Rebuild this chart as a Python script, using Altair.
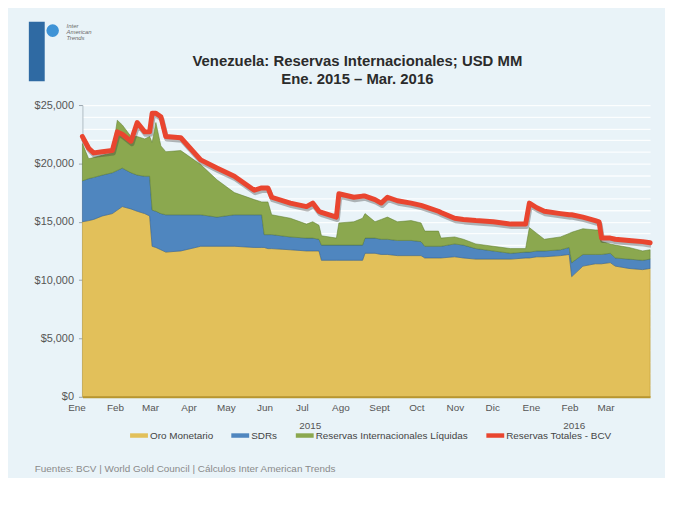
import altair as alt
import pandas as pd

# ---------------- data (USD MM) ----------------
dates = [
    "2015-01-01", "2015-01-06", "2015-01-10", "2015-01-17", "2015-01-25", "2015-01-29",
    "2015-02-02", "2015-02-09", "2015-02-14", "2015-02-20", "2015-02-24", "2015-02-26",
    "2015-03-01", "2015-03-05", "2015-03-09", "2015-03-21", "2015-04-06", "2015-04-19",
    "2015-05-03", "2015-05-19", "2015-05-25", "2015-05-27", "2015-05-30", "2015-06-02",
    "2015-06-17", "2015-06-30", "2015-07-05", "2015-07-10", "2015-07-12", "2015-07-24",
    "2015-07-26", "2015-08-07", "2015-08-14", "2015-08-16", "2015-08-24", "2015-08-29",
    "2015-09-03", "2015-09-11", "2015-09-22", "2015-09-30", "2015-10-03", "2015-10-14",
    "2015-10-16", "2015-10-27", "2015-11-03", "2015-11-13", "2015-11-27", "2015-12-11",
    "2015-12-23", "2015-12-26", "2016-01-01", "2016-01-07", "2016-01-20", "2016-01-27",
    "2016-01-29", "2016-02-07", "2016-02-17", "2016-02-20", "2016-02-22", "2016-02-29",
    "2016-03-04", "2016-03-15", "2016-03-26", "2016-04-01",
]
oro = [
    15000, 15100, 15200, 15500, 15700, 16000,
    16300, 16100, 15900, 15700, 15500, 12900,
    12800, 12600, 12400, 12500, 12900, 12900,
    12900, 12800, 12800, 12800, 12700, 12700,
    12600, 12500, 12500, 12500, 11700, 11700,
    11700, 11700, 11700, 12300, 12300, 12200,
    12200, 12100, 12100, 12100, 11900, 11900,
    11900, 12000, 11900, 11800, 11800, 11800,
    11900, 11900, 12000, 12000, 12100, 12200,
    10300, 11200, 11400, 11400, 11400, 11500,
    11200, 11000, 10900, 11000,
]
sdrs = [
    3500, 3600, 3600, 3500, 3500, 3400,
    3300, 3100, 3100, 3200, 3400, 3100,
    3100, 3100, 3200, 3100, 2700, 2500,
    2700, 2800, 2800, 1100, 1200, 1200,
    1100, 1100, 1100, 1000, 1300, 1300,
    1300, 1300, 1300, 1300, 1300, 1300,
    1300, 1300, 1300, 1200, 1000, 1000,
    1000, 1100, 1100, 900, 700, 500,
    500, 500, 500, 500, 500, 600,
    1200, 1000, 800, 800, 800, 800,
    700, 800, 800, 800,
]
liquidas = [
    3200, 1700, 1700, 1700, 1700, 4300,
    3700, 3100, 3300, 3200, 3400, 5800,
    7600, 5800, 5400, 5500, 4300, 3200,
    1900, 1300, 1100, 2800, 2800, 1700,
    1600, 1200, 1400, 1200, 800, 600,
    1900, 2000, 2300, 2100, 1400, 1700,
    1900, 1600, 1700, 1600, 1300, 1300,
    700, 600, 500, 400, 400, 400,
    300, 2100, 1500, 1000, 1100, 1200,
    2600, 2200, 2100, 2100, 1100, 800,
    1100, 1000, 800, 800,
]
totales = [
    22300, 21300, 20900, 21000, 21100, 22700,
    22500, 21900, 23500, 22700, 22700, 24300,
    24300, 24000, 22300, 22200, 20300, 19600,
    18900, 17700, 17900, 17900, 17900, 17100,
    16600, 16300, 16600, 15900, 15800, 15400,
    17400, 17100, 17200, 17200, 16900, 16600,
    17100, 16800, 16600, 16400, 16300, 15900,
    15800, 15300, 15200, 15100, 15000, 14800,
    14800, 16600, 16200, 15900, 15700, 15600,
    15600, 15400, 15100, 15000, 13600, 13600,
    13500, 13400, 13300, 13200,
]

series_names = ["Oro Monetario", "SDRs", "Reservas Internacionales Líquidas", "Reservas Totales - BCV"]
series_colors = ["#e2c05a", "#4f86bf", "#8ba84f", "#e9452f"]
series_edges = ["#b8962e", "#2f5f93", "#5f7d2e", "#b02a1a"]
month_labels = ["Ene", "Feb", "Mar", "Apr", "May", "Jun", "Jul", "Ago", "Sept", "Oct", "Nov", "Dic"]
year_labels = ["2015", "2016"]
year_dates = ["2015-07-03", "2016-01-31"]
y_ticks = list(range(0, 25001, 1000))
title_lines = ["Venezuela: Reservas Internacionales; USD MM", "Ene. 2015 \u2013 Mar. 2016"]
footer_text = "Fuentes: BCV | World Gold Council  | C\u00e1lculos Inter American Trends"
logo_text_str = "Inter\nAmerican\nTrends"

# ---------------- tables ----------------
rows = []
for i, d in enumerate(dates):
    for k, arr in enumerate([oro, sdrs, liquidas]):
        rows.append({"date": d, "serie": series_names[k], "valor": arr[i], "orden": k})
area_df = pd.DataFrame(rows)
total_df = pd.DataFrame({"date": dates, "valor": totales})
year_df = pd.DataFrame({"date": year_dates, "label": year_labels})
one_df = pd.DataFrame({"t": [footer_text]})


def ms(s):
    return int(pd.Timestamp(s, tz="UTC").value // 10**6)


month_starts = [ms(s) for s in pd.date_range("2015-01-01", "2016-03-01", freq="MS").strftime("%Y-%m-%d")]

W, H = 572, 294

label_expr_x = "[" + ",".join("'%s'" % m for m in month_labels) + "][utcmonth(datum.value)]"

x_axis = alt.Axis(
    values=month_starts,
    labelExpr=label_expr_x,
    title=None,
    ticks=False,
    grid=False,
    labelFlush=False,
    labelOverlap=False,
    labelPadding=6,
    labelOffset=-6,
    labelFontSize=10,
    labelColor="#555555",
    domainColor="#b8962e",
    domainWidth=2,
    zindex=1,
)
x_scale = alt.Scale(type="utc", domain=[ms("2015-01-01"), ms("2016-04-01")])
x_enc = alt.X("date:T", scale=x_scale, axis=x_axis)

y_scale = alt.Scale(domain=[0, 25000], nice=False)
y_axis = alt.Axis(
    values=y_ticks,
    title=None,
    labelExpr="datum.value % 5000 === 0 ? format(datum.value, '$,') : ''",
    tickColor={"condition": {"test": "datum.value % 5000 === 0", "value": "#9aa5ad"}, "value": "rgba(0,0,0,0)"},
    tickSize=4,
    labelPadding=5,
    labelFontSize=11,
    labelColor="#555555",
    domainColor="#b0bcc4",
    gridColor="#ffffff",
    gridOpacity=0.85,
    gridWidth=1.3,
)
y_enc = alt.Y("valor:Q", stack="zero", scale=y_scale, axis=y_axis)
y_line = alt.Y("valor:Q", scale=y_scale, axis=y_axis)

area = alt.Chart(area_df).mark_area(
    opacity=1, interpolate="linear", strokeWidth=1, strokeOpacity=0.55
).encode(
    x=x_enc,
    y=y_enc,
    color=alt.Color(
        "serie:N",
        scale=alt.Scale(domain=series_names, range=series_colors),
        legend=alt.Legend(
            title=None,
            orient="none",
            legendX=48,
            legendY=324,
            direction="horizontal",
            symbolType="M-1,-0.25H1V0.25H-1Z",
            symbolSize=324,
            symbolStrokeWidth=0,
            labelFontSize=10,
            labelColor="#444444",
            labelOffset=2,
            columnPadding=18,
            padding=0,
        ),
    ),
    stroke=alt.Stroke(
        "serie:N",
        scale=alt.Scale(domain=series_names, range=series_edges),
        legend=None,
    ),
    order=alt.Order("orden:Q"),
)

shadow = alt.Chart(total_df).mark_line(
    color="#3a3a3a", opacity=0.35, strokeWidth=5, xOffset=1, yOffset=2.5, strokeJoin="round"
).encode(x=x_enc, y=y_line)

red = alt.Chart(total_df).mark_line(
    color="#e9452f", strokeWidth=5, strokeJoin="round", strokeCap="round"
).encode(x=x_enc, y=y_line)

years = alt.Chart(year_df).mark_text(fontSize=10, color="#555555", baseline="middle").encode(
    x=x_enc, y=alt.value(H + 29), text="label:N"
)

footer = alt.Chart(one_df).mark_text(
    fontSize=10, color="#8a8a8a", align="left", baseline="middle"
).encode(x=alt.value(-48), y=alt.value(H + 73), text="t:N")

title1 = alt.Chart(one_df).mark_text(
    fontSize=15, fontWeight="bold", color="#2b2b2b", align="center", baseline="middle"
).encode(x=alt.value(W / 2 - 9), y=alt.value(-44), text=alt.value(title_lines[0]))
title2 = alt.Chart(one_df).mark_text(
    fontSize=15, fontWeight="bold", color="#2b2b2b", align="center", baseline="middle"
).encode(x=alt.value(W / 2 - 9), y=alt.value(-26), text=alt.value(title_lines[1]))

logo_bar = alt.Chart(one_df).mark_rect(color="#2f6aa3").encode(
    x=alt.value(-54), x2=alt.value(-38), y=alt.value(-84), y2=alt.value(-24)
)
logo_globe = alt.Chart(one_df).mark_point(
    filled=True, shape="circle", size=160, color="#3f93d6", opacity=1
).encode(x=alt.value(-30), y=alt.value(-75))
logo_text = alt.Chart(one_df).mark_text(
    fontSize=6, color="#6a6a6a", align="left", baseline="top", fontStyle="italic", lineBreak="\n", lineHeight=6
).encode(x=alt.value(-16), y=alt.value(-83), text=alt.value(logo_text_str))

chart = (
    alt.layer(area, shadow, red, years, footer, title1, title2, logo_bar, logo_globe, logo_text)
    .properties(
        width=W,
        height=H,
        padding={"left": 75, "top": 96, "right": 15, "bottom": 80},
        autosize=alt.AutoSizeParams(type="none"),
        background="#e9f3f8",
    )
    .configure(font="Liberation Sans")
    .configure_view(stroke=None)
)

chart.save("out.html", embed_options={"renderer": "svg", "actions": False})
